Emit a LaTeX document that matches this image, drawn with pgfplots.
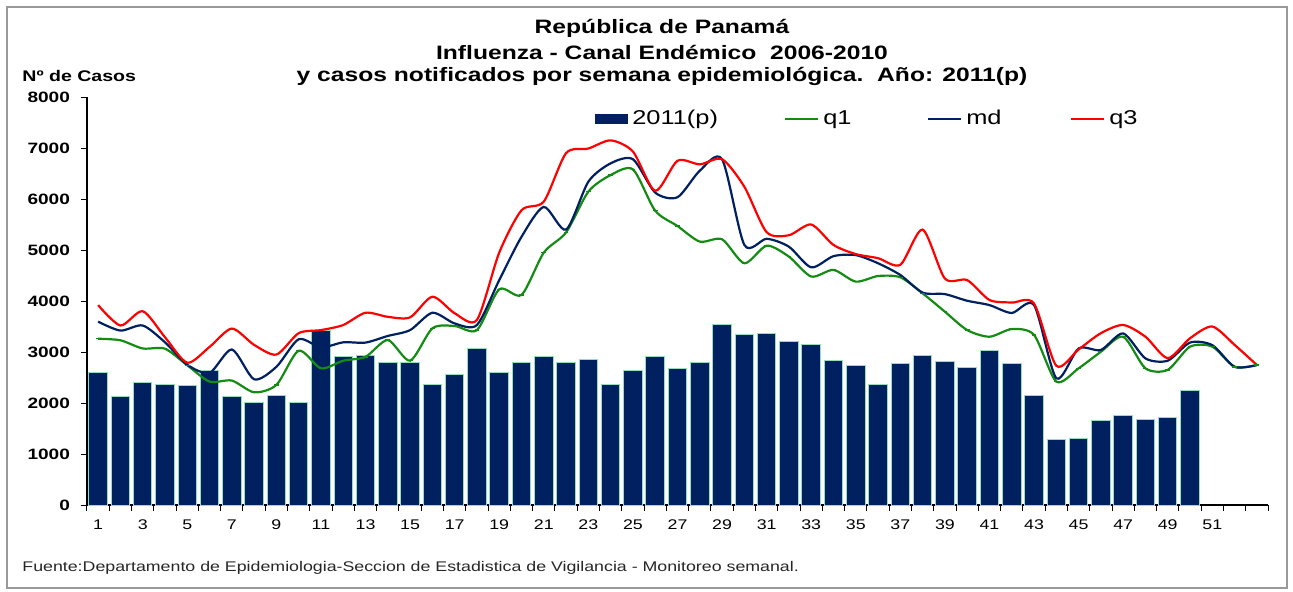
\documentclass[border=0pt]{standalone}
\usepackage{fontspec}
\setmainfont{Liberation Sans}[FakeStretch=1.27]
\usepackage{pgfplots}
\pgfplotsset{compat=1.18}
\definecolor{barnavy}{RGB}{0,32,96}
\definecolor{baredge}{RGB}{150,220,190}
\definecolor{qgreen}{RGB}{20,140,20}
\definecolor{mdblue}{RGB}{0,32,96}
\definecolor{qred}{RGB}{255,0,0}

% semana, casos 2011(p)
\newcommand{\casos}{
(1,2600) (2,2120) (3,2410) (4,2370) (5,2350) (6,2630) (7,2120) (8,2010) (9,2150) (10,2010)
(11,3430) (12,2915) (13,2935) (14,2785) (15,2785) (16,2370) (17,2550) (18,3070) (19,2600) (20,2800)
(21,2915) (22,2785) (23,2850) (24,2355) (25,2635) (26,2915) (27,2680) (28,2800) (29,3530) (30,3340)
(31,3355) (32,3210) (33,3150) (34,2830) (35,2735) (36,2360) (37,2770) (38,2940) (39,2815) (40,2700)
(41,3030) (42,2770) (43,2150) (44,1290) (45,1300) (46,1655) (47,1760) (48,1675) (49,1710) (50,2250)}
\newcommand{\qone}{
(1,3260) (2,3230) (3,3070) (4,3065) (5,2740) (6,2420) (7,2440) (8,2210) (9,2355) (10,3025)
(11,2680) (12,2830) (13,2905) (14,3235) (15,2830) (16,3465) (17,3510) (18,3430) (19,4230) (20,4120)
(21,4950) (22,5345) (23,6145) (24,6470) (25,6580) (26,5770) (27,5470) (28,5165) (29,5210) (30,4740)
(31,5085) (32,4870) (33,4480) (34,4610) (35,4380) (36,4490) (37,4465) (38,4150) (39,3790) (40,3430)
(41,3300) (42,3450) (43,3335) (44,2420) (45,2680) (46,3005) (47,3300) (48,2680) (49,2650) (50,3105)
(51,3105) (52,2710) (53,2745)}
\newcommand{\md}{
(1,3595) (2,3420) (3,3520) (4,3190) (5,2750) (6,2590) (7,3050) (8,2465) (9,2710) (10,3250)
(11,3090) (12,3190) (13,3185) (14,3315) (15,3430) (16,3770) (17,3560) (18,3530) (19,4410) (20,5260)
(21,5845) (22,5400) (23,6340) (24,6700) (25,6780) (26,6125) (27,6035) (28,6555) (29,6780) (30,5100)
(31,5220) (32,5065) (33,4660) (34,4880) (35,4900) (36,4740) (37,4510) (38,4165) (39,4135) (40,4005)
(41,3920) (42,3765) (43,3920) (44,2485) (45,3070) (46,3040) (47,3365) (48,2875) (49,2830) (50,3185)
(51,3135) (52,2710) (53,2745)}
\newcommand{\qtres}{
(1,3920) (2,3520) (3,3800) (4,3290) (5,2790) (6,3100) (7,3460) (8,3140) (9,2950) (10,3370)
(11,3430) (12,3530) (13,3770) (14,3690) (15,3680) (16,4085) (17,3760) (18,3630) (19,4950) (20,5780)
(21,5950) (22,6900) (23,6990) (24,7150) (25,6930) (26,6160) (27,6750) (28,6680) (29,6780) (30,6240)
(31,5350) (32,5290) (33,5500) (34,5100) (35,4920) (36,4840) (37,4710) (38,5400) (39,4440) (40,4410)
(41,4020) (42,3970) (43,3950) (44,2730) (45,3050) (46,3370) (47,3530) (48,3300) (49,2880) (50,3270)
(51,3500) (52,3140) (53,2745)}

\begin{document}
\begin{tikzpicture}
% marco exterior (1 px = 0.5pt)
\path[use as bounding box] (-43.5pt,-43pt) rectangle (603pt,252.5pt);
\draw[gray!80, line width=0.8pt] (-40pt,-41.5pt) rectangle (600pt,249pt);
\begin{axis}[
    scale only axis,
    width=590.5pt, height=204pt,
    xmin=0.5, xmax=53.5, ymin=0, ymax=8000,
    axis x line=bottom, axis y line=left,
    axis line style={-, black, line width=0.6pt},
    xtick={1,3,...,51},
    minor xtick={0.5,1.5,...,53.5},
    major tick length=3pt, minor tick length=3pt,
    major x tick style={draw=none},
    ytick={0,1000,...,8000},
    tick align=outside,
    tick style={black, line width=0.5pt},
    /pgf/number format/assume math mode=true,
    /pgf/number format/1000 sep={},
    yticklabel style={font=\fontsize{7.5}{8}\selectfont\bfseries, xshift=-2pt},
    xticklabel style={font=\fontsize{7}{8}\selectfont, yshift=-1pt},
    legend columns=4,
    legend style={draw=none, fill=none, at={(rel axis cs:0.425,0.946)}, anchor=west,
        font=\fontsize{10}{11}\selectfont, column sep=0pt,
        /tikz/every even column/.append style={column sep=0pt}},
    legend cell align=left,
    legend image code/.code={\draw[#1, line width=1pt] (0pt,0pt) -- (16.5pt,0pt);},
]
\addplot[ybar, bar width=0.83, fill=barnavy, draw=baredge, line width=0.5pt,
    legend image code/.code={\fill[barnavy] (0pt,-2.2pt) rectangle (16pt,2.2pt);}]
    coordinates {\casos};
\addlegendentry{\makebox[74pt][l]{2011(p)}}
\addplot[qgreen, line width=1.1pt, smooth, tension=0.45, mark=-, mark size=1.2pt,
    mark options={line width=0.7pt}]
    coordinates {\qone};
\addlegendentry{\makebox[50pt][l]{q1}}
\addplot[mdblue, line width=1.1pt, smooth, tension=0.45, mark=none]
    coordinates {\md};
\addlegendentry{\makebox[50pt][l]{md}}
\addplot[qred, line width=1.1pt, smooth, tension=0.45, mark=none]
    coordinates {\qtres};
\addlegendentry{q3}
\end{axis}
% titulos y textos
\node[font=\fontsize{9.7}{11}\selectfont\bfseries] at (287.5pt,238.5pt) {República de Panamá};
\node[font=\fontsize{9.7}{11}\selectfont\bfseries] at (287.5pt,226.5pt) {Influenza - Canal Endémico\ \ 2006-2010};
\node[font=\fontsize{9.7}{11}\selectfont\bfseries] at (287.5pt,214.5pt) {y casos notificados por semana epidemiológica.\ \ Año: 2011(p)};
\node[font=\fontsize{7.7}{9}\selectfont\bfseries, anchor=west, inner sep=0pt] at (-32.5pt,214.5pt) {Nº de Casos};
\node[font=\fontsize{7}{8}\selectfont, text=black!85, anchor=west, inner sep=0pt] at (-32.5pt,-31.5pt)
    {Fuente:Departamento de Epidemiologia-Seccion de Estadistica de Vigilancia - Monitoreo semanal.};
\end{tikzpicture}
\end{document}
